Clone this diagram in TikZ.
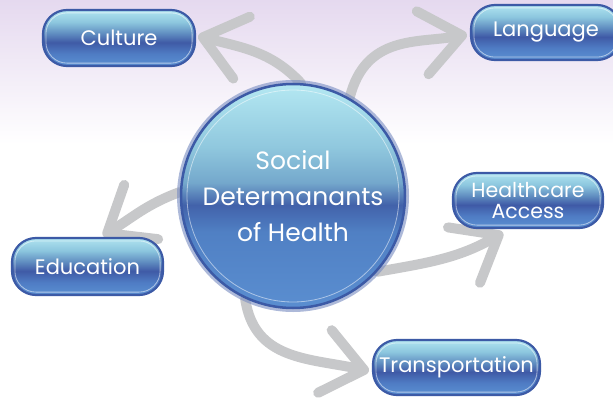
\documentclass[tikz,border=0pt]{standalone}
\usepackage{fontspec}
\setmainfont{Poppins}
\usetikzlibrary{arrows.meta}
\definecolor{bgtop}{HTML}{E5D9EF}
\definecolor{arrowgray}{HTML}{C7C8CA}
\definecolor{bxedge}{HTML}{3C5AA6}
\definecolor{bxtop}{HTML}{B0E4F0}
\definecolor{bxup}{HTML}{8CC6DE}
\definecolor{bxmid}{HTML}{5F8CC0}
\definecolor{bxdark}{HTML}{3F5AA6}
\definecolor{bxlow}{HTML}{4F7CC4}
\definecolor{bxbot}{HTML}{5B90D2}
\definecolor{hbtop}{HTML}{B4E8F2}
\definecolor{hbup}{HTML}{90C8DE}
\definecolor{hbmid}{HTML}{74A8CC}
\definecolor{hbdark}{HTML}{4262AA}
\definecolor{hblow}{HTML}{5080C4}
\definecolor{hbbot}{HTML}{5A8ED0}
\pgfdeclareverticalshading{bgshade}{100bp}{color(0bp)=(white); color(25bp)=(white); color(57bp)=(white); color(75bp)=(bgtop); color(100bp)=(bgtop)}
\pgfdeclareverticalshading{boxshade}{100bp}{color(0bp)=(bxbot); color(25bp)=(bxbot); color(36bp)=(bxlow); color(46bp)=(bxdark); color(54bp)=(bxmid); color(64bp)=(bxup); color(75bp)=(bxtop); color(100bp)=(bxtop)}
\pgfdeclareverticalshading{hubshade}{100bp}{color(0bp)=(hbbot); color(25bp)=(hbbot); color(42bp)=(hblow); color(48bp)=(hbdark); color(53bp)=(hbmid); color(61bp)=(hbup); color(75bp)=(hbtop); color(100bp)=(hbtop)}
\pgfdeclarelayer{bg}
\pgfdeclarelayer{arrowlayer}
\pgfsetlayers{bg,arrowlayer,main}
\begin{document}
\begin{tikzpicture}[x=1pt,y=1pt,
  conn/.style={draw=arrowgray, line width=10pt, line cap=round,
    -{Straight Barb[length=40pt,width=64pt,round]}},
  box/.style={rectangle, rounded corners=24pt, shading=boxshade, draw=bxedge,
    line width=2.2pt, text=white, font=\fontsize{21}{24}\selectfont,
    inner sep=0pt, align=center},
  hub/.style={circle, shading=hubshade, draw=bxedge, line width=2.5pt,
    minimum size=224pt, inner sep=0pt, text=white, align=center,
    font=\fontsize{25}{36}\selectfont},
  hl/.style={draw=white, draw opacity=0.55, line width=0.8pt, rounded corners=21pt}
]
\useasboundingbox (0,0) rectangle (613,400);
\clip (0,0) rectangle (613,400);
\begin{pgfonlayer}{bg}
  \fill[shading=bgshade] (0,0) rectangle (613,400);
\end{pgfonlayer}

% hub
\fill[bxedge!70, opacity=0.6] (293,204) circle (116);
\node[hub] (hub) at (293,204) {Social\\Determanants\\of Health};
\draw[white, opacity=0.5, line width=0.8pt] (hub.center) circle (106);

% boxes
\node[box, minimum width=152pt, minimum height=56pt] (cul) at (119,362) {Culture};
\node[box, minimum width=150pt, minimum height=55pt] (lang) at (546,367.5) {Language};
\node[box, minimum width=150pt, minimum height=55pt,
      font=\fontsize{20.5}{21}\selectfont] (hc) at (528,199.5) {Healthcare\\Access};
\node[box, minimum width=151pt, minimum height=57pt] (edu) at (87.5,133.5) {Education};
\node[box, minimum width=167pt, minimum height=55pt] (trans) at (456.5,32.5) {Transportation};

\foreach \b in {cul,lang,hc,edu,trans}
  \draw[hl] ([shift={(4,4)}]\b.south west) rectangle ([shift={(-4,-4)}]\b.north east);

% connectors
\begin{pgfonlayer}{arrowlayer}
  \draw[conn] (hub.86) to[out=133,in=-15] ([shift={(2,2)}]cul.east);
  \draw[conn] (hub.60) .. controls +(16,64) and +(-48,-9) .. ([shift={(-3,-2)}]lang.west);
  \draw[conn] (hub.-42) to[out=10,in=210] ([shift={(-25,-3.5)}]hc.south);
  \draw[conn] (hub.178) to[out=200,in=32] ([shift={(15.5,1)}]edu.north);
  \draw[conn] (hub.245) .. controls +(9,-62) and +(-60,13) .. ([shift={(-3,-3.5)}]trans.west);
\end{pgfonlayer}
\end{tikzpicture}
\end{document}
